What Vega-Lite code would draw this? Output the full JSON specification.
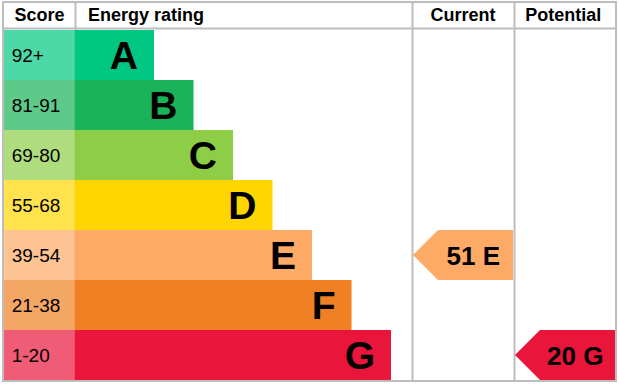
{
  "$schema": "https://vega.github.io/schema/vega-lite/v6.json",
  "width": 613,
  "height": 379,
  "autosize": {"type": "none"},
  "padding": {"left": 3, "top": 2, "right": 3, "bottom": 3},
  "background": "white",
  "config": {
    "view": {"stroke": "#bdbdbd", "strokeWidth": 2},
    "text": {"font": "Liberation Sans", "color": "#000000"}
  },
  "datasets": {
    "bands": [
      {"rating": "A", "score": "92+", "len": 2},
      {"rating": "B", "score": "81-91", "len": 3},
      {"rating": "C", "score": "69-80", "len": 4},
      {"rating": "D", "score": "55-68", "len": 5},
      {"rating": "E", "score": "39-54", "len": 6},
      {"rating": "F", "score": "21-38", "len": 7},
      {"rating": "G", "score": "1-20", "len": 8}
    ],
    "assessments": [
      {"type": "Current", "score": 51, "rating": "E", "label": "51 E"},
      {"type": "Potential", "score": 20, "rating": "G", "label": "20 G"}
    ],
    "headers": [
      {"header": "Score"},
      {"header": "Energy rating"},
      {"header": "Current"},
      {"header": "Potential"}
    ]
  },
  "layer": [
    {
      "data": {"name": "bands"},
      "mark": {"type": "bar"},
      "encoding": {
        "x": {
          "field": "len",
          "type": "quantitative",
          "scale": {"domain": [-1.8228, 13.6962], "nice": false, "zero": false},
          "axis": {"values": [0, 8.5316, 11.1139], "grid": true, "gridColor": "#bdbdbd", "gridWidth": 2, "gridOpacity": 1, "labels": false, "ticks": false, "domain": false, "title": null}
        },
        "y": {
          "field": "rating",
          "type": "nominal",
          "scale": {"domain": ["A", "B", "C", "D", "E", "F", "G"], "paddingInner": 0, "paddingOuter": 0.29, "align": 0.9655},
          "axis": {"values": ["A"], "bandPosition": 0, "tickOffset": -2, "grid": true, "gridColor": "#bdbdbd", "gridWidth": 2, "gridOpacity": 1, "labels": false, "ticks": false, "domain": false, "title": null}
        },
        "color": {
          "field": "rating",
          "type": "nominal",
          "scale": {"domain": ["A", "B", "C", "D", "E", "F", "G"], "range": ["#00c781", "#19b459", "#8dce46", "#ffd500", "#fcaa65", "#ef8023", "#e9153b"]},
          "legend": null
        }
      }
    },
    {
      "data": {"name": "bands"},
      "mark": {"type": "bar", "opacity": 0.7},
      "encoding": {
        "x": {"datum": -1.797, "type": "quantitative"},
        "y": {"field": "rating", "type": "nominal"},
        "color": {"field": "rating", "type": "nominal"}
      }
    },
    {
      "data": {"name": "bands"},
      "mark": {"type": "text", "align": "left", "baseline": "alphabetic", "dy": 7.5, "fontSize": 19},
      "encoding": {
        "x": {"datum": -1.6025, "type": "quantitative"},
        "y": {"field": "rating", "type": "nominal"},
        "text": {"field": "score"}
      }
    },
    {
      "data": {"name": "bands"},
      "mark": {"type": "text", "align": "right", "baseline": "alphabetic", "dx": -16, "dy": 14, "fontSize": 39, "fontWeight": "bold"},
      "encoding": {
        "x": {"field": "len", "type": "quantitative"},
        "y": {"field": "rating", "type": "nominal"},
        "text": {"field": "rating"}
      }
    },
    {
      "data": {"name": "assessments"},
      "transform": [{"filter": "datum.type === 'Current'"}],
      "mark": {"type": "point", "shape": "M-2,0L-1,-1L2,-1L2,1L-1,1Z", "size": 2500, "filled": true, "opacity": 1, "strokeWidth": 0},
      "encoding": {
        "x": {"datum": 9.8228, "type": "quantitative"},
        "y": {"field": "rating", "type": "nominal"},
        "color": {"field": "rating", "type": "nominal"}
      }
    },
    {
      "data": {"name": "assessments"},
      "transform": [{"filter": "datum.type === 'Current'"}],
      "mark": {"type": "text", "align": "right", "baseline": "alphabetic", "dx": 37, "dy": 10, "fontSize": 26, "fontWeight": "bold"},
      "encoding": {
        "x": {"datum": 9.8228, "type": "quantitative"},
        "y": {"field": "rating", "type": "nominal"},
        "text": {"field": "label"}
      }
    },
    {
      "data": {"name": "assessments"},
      "transform": [{"filter": "datum.type === 'Potential'"}],
      "mark": {"type": "point", "shape": "M-2,0L-1,-1L2,-1L2,1L-1,1Z", "size": 2500, "filled": true, "opacity": 1, "strokeWidth": 0},
      "encoding": {
        "x": {"datum": 12.405, "type": "quantitative"},
        "y": {"field": "rating", "type": "nominal"},
        "color": {"field": "rating", "type": "nominal"}
      }
    },
    {
      "data": {"name": "assessments"},
      "transform": [{"filter": "datum.type === 'Potential'"}],
      "mark": {"type": "text", "align": "right", "baseline": "alphabetic", "dx": 38.5, "dy": 10, "fontSize": 26, "fontWeight": "bold"},
      "encoding": {
        "x": {"datum": 12.405, "type": "quantitative"},
        "y": {"field": "rating", "type": "nominal"},
        "text": {"field": "label"}
      }
    },
    {
      "data": {"name": "headers"},
      "transform": [{"filter": "datum.header === 'Score'"}],
      "mark": {"type": "text", "align": "center", "baseline": "alphabetic", "dy": -33.5, "fontSize": 18, "fontWeight": "bold"},
      "encoding": {
        "x": {"datum": -0.8987, "type": "quantitative"},
        "y": {"datum": "A", "type": "nominal"},
        "text": {"field": "header"}
      }
    },
    {
      "data": {"name": "headers"},
      "transform": [{"filter": "datum.header === 'Energy rating'"}],
      "mark": {"type": "text", "align": "left", "baseline": "alphabetic", "dy": -33.5, "fontSize": 18, "fontWeight": "bold"},
      "encoding": {
        "x": {"datum": 0.329, "type": "quantitative"},
        "y": {"datum": "A", "type": "nominal"},
        "text": {"field": "header"}
      }
    },
    {
      "data": {"name": "headers"},
      "transform": [{"filter": "datum.header === 'Current'"}],
      "mark": {"type": "text", "align": "center", "baseline": "alphabetic", "dy": -33.5, "fontSize": 18, "fontWeight": "bold"},
      "encoding": {
        "x": {"datum": 9.8228, "type": "quantitative"},
        "y": {"datum": "A", "type": "nominal"},
        "text": {"field": "header"}
      }
    },
    {
      "data": {"name": "headers"},
      "transform": [{"filter": "datum.header === 'Potential'"}],
      "mark": {"type": "text", "align": "center", "baseline": "alphabetic", "dy": -33.5, "fontSize": 18, "fontWeight": "bold"},
      "encoding": {
        "x": {"datum": 12.362, "type": "quantitative"},
        "y": {"datum": "A", "type": "nominal"},
        "text": {"field": "header"}
      }
    }
  ]
}
